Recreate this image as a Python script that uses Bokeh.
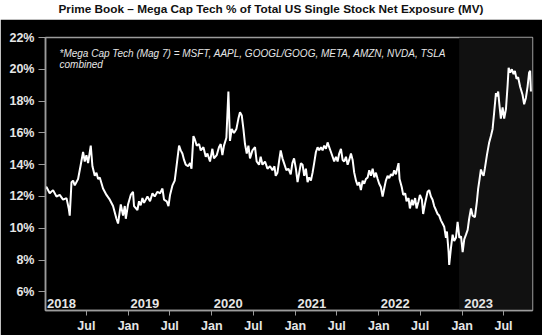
import calendar
from datetime import datetime, timedelta

from bokeh.embed import file_html
from bokeh.layouts import column
from bokeh.models import (BoxAnnotation, ColumnDataSource, DatetimeTickFormatter,
                          Div, FixedTicker, Label, PrintfTickFormatter, Range1d)
from bokeh.plotting import figure
from bokeh.resources import INLINE

TITLE = "Prime Book \u2013 Mega Cap Tech % of Total US Single Stock Net Exposure (MV)"
NOTE_1 = "*Mega Cap Tech (Mag 7) = MSFT, AAPL, GOOGL/GOOG, META, AMZN, NVDA, TSLA"
NOTE_2 = "combined"

# time in decimal years, value in %
t_years = [
    2018.002, 2018.017, 2018.056, 2018.096, 2018.137, 2018.176, 2018.216, 2018.257, 2018.284, 2018.296,
    2018.317, 2018.336, 2018.356, 2018.396, 2018.428, 2018.456, 2018.476, 2018.496, 2018.516, 2018.548,
    2018.568, 2018.596, 2018.616, 2018.636, 2018.656, 2018.695, 2018.736, 2018.776, 2018.815, 2018.856,
    2018.875, 2018.908, 2018.935, 2018.956, 2018.968, 2018.995, 2019.028, 2019.055, 2019.067, 2019.108,
    2019.127, 2019.147, 2019.168, 2019.187, 2019.228, 2019.259, 2019.288, 2019.315, 2019.348, 2019.379,
    2019.408, 2019.427, 2019.459, 2019.480, 2019.499, 2019.528, 2019.555, 2019.579, 2019.607, 2019.627,
    2019.647, 2019.667, 2019.687, 2019.715, 2019.739, 2019.756, 2019.779, 2019.795, 2019.819, 2019.847,
    2019.867, 2019.899, 2019.927, 2019.947, 2019.978, 2020.007, 2020.026, 2020.059, 2020.086, 2020.107,
    2020.127, 2020.146, 2020.175, 2020.199, 2020.218, 2020.239, 2020.266, 2020.295, 2020.319, 2020.338,
    2020.359, 2020.379, 2020.398, 2020.419, 2020.439, 2020.458, 2020.487, 2020.518, 2020.538, 2020.566,
    2020.586, 2020.607, 2020.638, 2020.667, 2020.698, 2020.727, 2020.751, 2020.766, 2020.787, 2020.806,
    2020.826, 2020.847, 2020.866, 2020.894, 2020.918, 2020.946, 2020.966, 2020.986, 2021.006, 2021.026,
    2021.046, 2021.066, 2021.086, 2021.106, 2021.126, 2021.146, 2021.165, 2021.186, 2021.206, 2021.225,
    2021.246, 2021.266, 2021.285, 2021.306, 2021.326, 2021.345, 2021.366, 2021.386, 2021.405, 2021.426,
    2021.446, 2021.465, 2021.486, 2021.506, 2021.525, 2021.546, 2021.566, 2021.585, 2021.606, 2021.626,
    2021.645, 2021.666, 2021.686, 2021.705, 2021.726, 2021.746, 2021.765, 2021.785, 2021.806, 2021.825,
    2021.845, 2021.866, 2021.885, 2021.905, 2021.926, 2021.945, 2021.965, 2021.986, 2022.005, 2022.025,
    2022.046, 2022.065, 2022.085, 2022.106, 2022.125, 2022.146, 2022.166, 2022.185, 2022.205, 2022.237,
    2022.249, 2022.275, 2022.293, 2022.317, 2022.333, 2022.357, 2022.373, 2022.397, 2022.412, 2022.436,
    2022.453, 2022.477, 2022.493, 2022.517, 2022.532, 2022.556, 2022.585, 2022.604, 2022.625, 2022.645,
    2022.664, 2022.685, 2022.705, 2022.724, 2022.745, 2022.765, 2022.784, 2022.805, 2022.817, 2022.837,
    2022.844, 2022.865, 2022.885, 2022.904, 2022.925, 2022.945, 2022.966, 2022.986, 2023.006, 2023.025,
    2023.046, 2023.066, 2023.084, 2023.106, 2023.125, 2023.153, 2023.177, 2023.192, 2023.209, 2023.225,
    2023.245, 2023.257, 2023.272, 2023.297, 2023.324, 2023.345, 2023.365, 2023.384, 2023.405, 2023.417,
    2023.432, 2023.444, 2023.464, 2023.485, 2023.504, 2023.525, 2023.545, 2023.557, 2023.576, 2023.596,
    2023.616, 2023.632, 2023.652, 2023.671, 2023.695, 2023.724, 2023.743, 2023.764, 2023.784, 2023.803,
    2023.815, 2023.824,
]
exposure_pct = [
    12.5, 12.6, 12.2, 12.4, 12.0, 12.1, 11.8, 11.9, 11.25, 10.8,
    12.9, 13.0, 12.7, 13.1, 14.0, 14.8, 14.2, 14.6, 14.1, 15.2,
    13.9, 13.3, 13.5, 13.1, 13.2, 12.5, 12.1, 11.8, 11.4, 10.6,
    10.3, 11.5, 10.8, 11.4, 10.6, 11.5, 12.1, 12.3, 11.4, 11.15,
    11.7, 11.45, 11.9, 11.6, 12.0, 11.7, 12.2, 12.0, 12.3, 12.2,
    12.5, 11.8, 11.7, 11.4, 12.1, 12.7, 13.0, 14.0, 15.2, 14.9,
    14.7, 14.3, 14.0, 13.9, 14.1, 13.75, 15.8, 15.6, 15.2, 15.3,
    14.9, 15.1, 14.5, 14.7, 14.2, 15.0, 14.4, 14.6, 15.1, 15.3,
    14.6, 15.2, 15.7, 18.6, 15.5, 16.25, 16.0, 16.25, 16.9, 17.3,
    17.1, 16.25, 15.3, 14.7, 15.2, 14.4, 14.9, 15.1, 14.2, 14.0,
    14.5, 14.0, 14.2, 13.75, 13.9, 13.65, 13.9, 13.3, 13.5, 14.2,
    14.9, 14.4, 14.1, 13.65, 13.75, 13.4, 14.1, 14.4, 13.75, 12.9,
    13.5, 14.1, 14.0, 13.3, 13.75, 12.9, 13.2, 13.0, 13.5, 14.1,
    14.8, 15.1, 14.9, 15.1, 14.9, 15.2, 15.0, 15.4, 15.1, 14.8,
    14.5, 14.2, 14.5, 14.2, 14.7, 15.0, 14.3, 14.2, 14.5, 14.0,
    14.3, 14.7, 14.3, 13.5, 13.0, 12.7, 12.9, 12.4, 13.0, 12.8,
    13.1, 13.2, 13.65, 13.3, 13.75, 13.2, 13.5, 13.1, 12.8, 12.6,
    12.0, 12.5, 13.0, 13.3, 13.15, 13.4, 13.3, 13.65, 13.4, 14.1,
    13.1, 12.6, 12.1, 12.2, 11.7, 11.9, 11.25, 11.8, 11.45, 11.9,
    11.25, 11.7, 12.1, 11.8, 10.9, 11.6, 12.3, 12.4, 12.0, 11.8,
    11.4, 11.15, 10.9, 10.8, 10.5, 10.3, 10.1, 9.4, 9.8, 8.5,
    7.7, 8.75, 9.6, 9.2, 9.4, 10.4, 9.4, 9.5, 8.5, 9.3,
    9.6, 9.9, 10.6, 11.25, 10.8, 10.7, 11.7, 12.5, 13.1, 13.7,
    13.4, 13.3, 13.75, 14.6, 15.4, 15.8, 16.25, 17.3, 18.5, 18.3,
    18.6, 17.9, 16.9, 17.6, 16.9, 17.5, 19.0, 20.1, 19.8, 20.0,
    19.7, 19.9, 19.4, 19.5, 18.9, 18.4, 17.8, 18.2, 18.9, 19.8,
    19.9, 18.6,
]
year_labels = ["2018", "2019", "2020", "2021", "2022", "2023"]
y_ticks = [6, 8, 10, 12, 14, 16, 18, 20, 22]
x_tick_dates = ["2018-07-01", "2019-01-01", "2019-07-01", "2020-01-01", "2020-07-01",
                "2021-01-01", "2021-07-01", "2022-01-01", "2022-07-01", "2023-01-01",
                "2023-07-01"]
shade_start = "2022-12-19"
x_start, x_end = "2018-01-03", "2023-11-05"
y_start, y_end = 4.83, 22.0


def dec_to_dt(t):
    yr = int(t)
    return datetime(yr, 1, 1) + timedelta(days=(t - yr) * 365.25)


def ms(s):
    d = datetime.strptime(s, "%Y-%m-%d")
    return calendar.timegm(d.timetuple()) * 1000.0


dates = [dec_to_dt(t) for t in t_years]
src = ColumnDataSource(data=dict(date=dates, pct=exposure_pct))

BG = "#000000"
GRAY = "#9c9c9c"
LABEL = "#e6e6e6"
FONT = "Liberation Sans"

p = figure(width=542, height=316, x_axis_type="datetime",
           output_backend="svg", toolbar_location=None,
           x_range=Range1d(ms(x_start), ms(x_end)),
           y_range=Range1d(y_start, y_end),
           min_border_left=45, min_border_right=10, min_border_top=18, min_border_bottom=24)
p.margin = 0
p.background_fill_color = BG
p.border_fill_color = BG
p.outline_line_color = GRAY
p.outline_line_width = 1.5
p.xgrid.visible = False
p.ygrid.visible = False

shade = BoxAnnotation(left=ms(shade_start), fill_color="#111111", fill_alpha=1.0,
                      line_alpha=0, level="underlay")
p.add_layout(shade)

p.line("date", "pct", source=src, line_color="white", line_width=2.0)

# y axis
ya = p.yaxis[0]
ya.ticker = FixedTicker(ticks=y_ticks)
ya.formatter = PrintfTickFormatter(format="%d%%")
ya.major_tick_out = 7
ya.major_tick_in = 0
ya.minor_tick_out = 0
ya.minor_tick_in = 0
ya.major_tick_line_color = GRAY
ya.axis_line_color = GRAY
ya.axis_line_width = 1.5
ya.major_label_text_color = LABEL
ya.major_label_text_font = FONT
ya.major_label_text_font_style = "bold"
ya.major_label_text_font_size = "12.5px"
ya.major_label_standoff = 4

# x axis
xa = p.xaxis[0]
xa.ticker = FixedTicker(ticks=[ms(d) for d in x_tick_dates])
xa.formatter = DatetimeTickFormatter(days="%b", months="%b", years="%b", hours="%b")
xa.major_tick_out = 5
xa.major_tick_in = 0
xa.minor_tick_out = 0
xa.minor_tick_in = 0
xa.major_tick_line_color = GRAY
xa.axis_line_color = GRAY
xa.axis_line_width = 1.5
xa.major_label_text_color = LABEL
xa.major_label_text_font = FONT
xa.major_label_text_font_style = "bold"
xa.major_label_text_font_size = "12.5px"
xa.major_label_standoff = 3

# year labels inside the plot
for yl in year_labels:
    p.add_layout(Label(x=ms(yl + "-01-01"), y=y_start, x_offset=2, y_offset=3,
                       text=yl, text_color=LABEL, text_font=FONT,
                       text_font_style="bold", text_font_size="13px",
                       text_baseline="bottom", text_align="left"))

# footnote
p.add_layout(Label(x=ms(x_start), y=y_end, x_offset=14, y_offset=-15.5, text=NOTE_1,
                   text_color=LABEL, text_font=FONT, text_font_style="italic",
                   text_font_size="10px", text_baseline="middle"))
p.add_layout(Label(x=ms(x_start), y=y_end, x_offset=14, y_offset=-27, text=NOTE_2,
                   text_color=LABEL, text_font=FONT, text_font_style="italic",
                   text_font_size="10px", text_baseline="middle"))

title = Div(text=TITLE, width=542, height=19, margin=0,
            styles={"background-color": "white", "color": "#111111",
                    "font-family": FONT, "font-weight": "bold", "font-size": "11.8px",
                    "text-align": "center", "line-height": "19px",
                    "width": "542px", "height": "19px", "overflow": "hidden"})

layout = column(title, p, spacing=0)
open("out.html", "w").write(file_html(layout, INLINE))
